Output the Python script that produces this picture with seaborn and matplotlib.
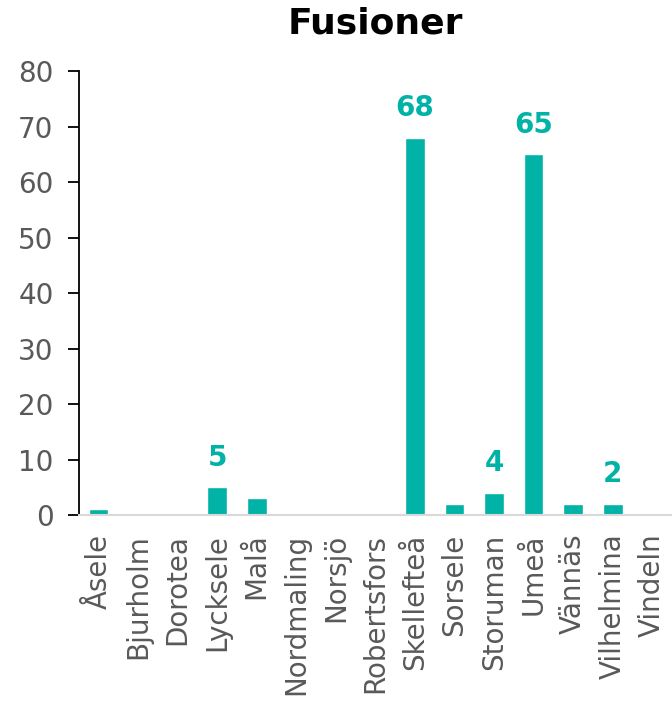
import numpy as np
import pandas as pd
import seaborn as sns
import matplotlib
matplotlib.use("Agg")
import matplotlib.pyplot as plt

kommuner = ["Åsele", "Bjurholm", "Dorotea", "Lycksele", "Malå", "Nordmaling",
            "Norsjö", "Robertsfors", "Skellefteå", "Sorsele", "Storuman",
            "Umeå", "Vännäs", "Vilhelmina", "Vindeln"]
fusioner = [1, 0, 0, 5, 3, 0, 0, 0, 68, 2, 4, 65, 2, 2, 0]
# only some bars carry a value label in the original
etiketter = ["", "", "", "5", "", "", "", "", "68", "", "4", "65", "", "2", ""]

teal = "#00B3A6"

df = pd.DataFrame({"kommun": kommuner, "antal": fusioner})

sns.set_style("white")
plt.rcParams["font.family"] = ["DejaVu Sans"]

fig = plt.figure(figsize=(6.72, 7.13), dpi=100)
ax = fig.add_axes([0.117, 0.2777, 0.883, 0.6227])

sns.barplot(data=df, x="kommun", y="antal", color=teal, width=0.5,
            saturation=1, ax=ax)

for i, (v, t) in enumerate(zip(fusioner, etiketter)):
    if t:
        ax.text(i, v + 2.8, t, ha="center", va="bottom", color=teal,
                fontsize=20, fontweight="bold")

ax.set_ylim(0, 80)
ax.set_xlim(-0.5, 14.5)
ax.set_yticks(range(0, 81, 10))
ax.set_xlabel("")
ax.set_ylabel("")
ax.set_title("Fusioner", fontsize=26, fontweight="bold", pad=27, color="black")

for s in ["top", "right"]:
    ax.spines[s].set_visible(False)
ax.spines["left"].set_color("black")
ax.spines["left"].set_linewidth(1.3)
ax.spines["bottom"].set_color("#D9D9D9")
ax.spines["bottom"].set_linewidth(1.5)

ax.tick_params(axis="y", left=True, length=8, width=1.3, color="black",
               labelsize=20, labelcolor="#595959", pad=10)
ax.tick_params(axis="x", bottom=False, labelsize=20, labelcolor="#595959",
               labelrotation=90, pad=10)

fig.savefig("out.png", dpi=100)
